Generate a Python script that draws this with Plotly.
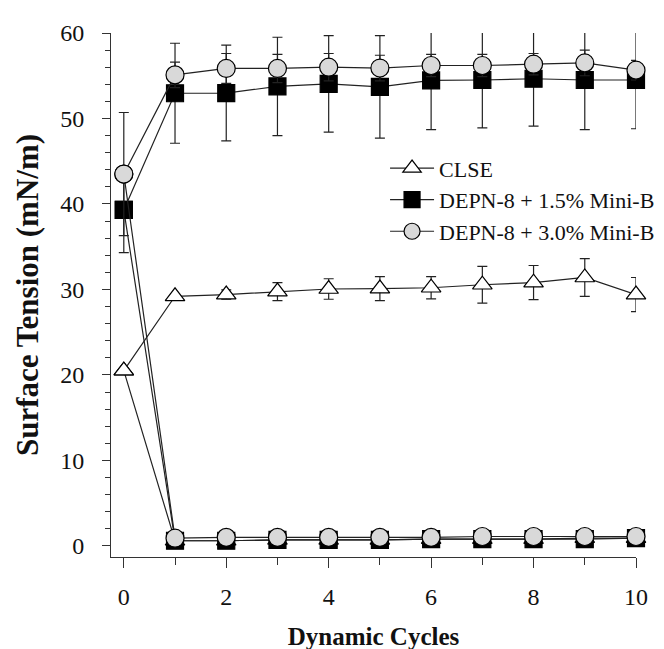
import plotly.graph_objects as go

cycles = [0, 1, 2, 3, 4, 5, 6, 7, 8, 9, 10]

# CLSE
clse_max = [20.5, 29.2, 29.4, 29.75, 30.05, 30.1, 30.2, 30.55, 30.8, 31.4, 29.4]
clse_max_err = [0.0, 0.3, 0.55, 1.05, 1.2, 1.4, 1.3, 2.15, 2.0, 2.2, 2.0]
clse_min = [20.5, 0.6, 0.6, 0.7, 0.7, 0.7, 0.8, 0.8, 0.8, 0.9, 0.9]

# DEPN-8 + 1.5% Mini-B
d15_max = [39.3, 52.95, 52.97, 53.75, 54.05, 53.7, 54.45, 54.5, 54.65, 54.5, 54.5]
d15_max_err = [5.0, 5.85, 5.6, 5.75, 5.65, 6.0, 5.75, 5.6, 5.55, 5.8, 5.7]
d15_min = [39.3, 0.6, 0.6, 0.7, 0.7, 0.7, 0.8, 0.8, 0.8, 0.8, 0.9]

# DEPN-8 + 3.0% Mini-B
d30_max = [43.5, 55.1, 55.85, 55.85, 56.0, 55.9, 56.2, 56.2, 56.35, 56.5, 55.65]
d30_max_err = [7.2, 1.5, 1.75, 1.65, 1.6, 1.5, 1.3, 1.3, 1.25, 1.5, 1.15]
d30_min = [43.5, 0.9, 1.0, 1.0, 1.0, 1.0, 1.0, 1.1, 1.1, 1.1, 1.1]

names = ["CLSE", "DEPN-8 + 1.5% Mini-B", "DEPN-8 + 3.0% Mini-B"]

FONT = "Liberation Serif"
fig = go.Figure()

styles = [
    dict(symbol="triangle-up", size=17, color="white"),
    dict(symbol="square", size=17, color="black"),
    dict(symbol="circle", size=18, color="#d9d9d9"),
]
series = [
    (clse_max, clse_max_err, clse_min),
    (d15_max, d15_max_err, d15_min),
    (d30_max, d30_max_err, d30_min),
]

for name, st, (ymax, yerr, ymin) in zip(names, styles, series):
    marker = dict(symbol=st["symbol"], size=st["size"], color=st["color"],
                  line=dict(color="black", width=1.2))
    fig.add_trace(go.Scatter(
        x=cycles, y=ymin, mode="lines+markers", name=name, showlegend=False,
        line=dict(color="#222", width=1.2), marker=marker, cliponaxis=False,
    ))
    fig.add_trace(go.Scatter(
        x=cycles, y=ymax, mode="lines+markers", name=name,
        line=dict(color="#222", width=1.2), marker=marker, cliponaxis=False,
        error_y=dict(type="data", array=yerr, visible=True, color="#222",
                     thickness=1.2, width=5),
    ))

fig.update_layout(
    width=664, height=649,
    margin=dict(l=103, r=27, t=22, b=91),
    plot_bgcolor="white", paper_bgcolor="white",
    font=dict(family=FONT, size=24, color="#111"),
    showlegend=True,
    legend=dict(x=0.522, y=0.782, xanchor="left", yanchor="top",
                bgcolor="rgba(0,0,0,0)", font=dict(family=FONT, size=22),
                itemwidth=44, tracegroupgap=0),
    xaxis=dict(
        range=[-0.25, 10], showgrid=False, zeroline=False,
        showline=True, linecolor="#333", linewidth=1,
        tickmode="array", tickvals=[0, 2, 4, 6, 8, 10],
        ticks="outside", ticklen=10, tickcolor="#333",
        minor=dict(tickvals=[1, 3, 5, 7, 9], ticks="outside", ticklen=7, tickcolor="#333"),
        tickfont=dict(family=FONT, size=24),
        ticklabelstandoff=8,
        title=dict(text="<b>Dynamic Cycles</b>", font=dict(family=FONT, size=25), standoff=18),
    ),
    yaxis=dict(
        range=[-1.3, 60], showgrid=False, zeroline=False,
        showline=True, linecolor="#333", linewidth=1,
        tickmode="array", tickvals=[0, 10, 20, 30, 40, 50, 60],
        ticks="outside", ticklen=8, tickcolor="#333",
        minor=dict(tickvals=[2, 4, 6, 8, 12, 14, 16, 18, 22, 24, 26, 28, 32, 34, 36, 38,
                             42, 44, 46, 48, 52, 54, 56, 58],
                   ticks="outside", ticklen=5, tickcolor="#333"),
        tickfont=dict(family=FONT, size=24),
        ticklabelstandoff=13,
        title=dict(text="<b>Surface Tension (mN/m)</b>", font=dict(family=FONT, size=31), standoff=12),
    ),
)

fig.write_html("out.html")
